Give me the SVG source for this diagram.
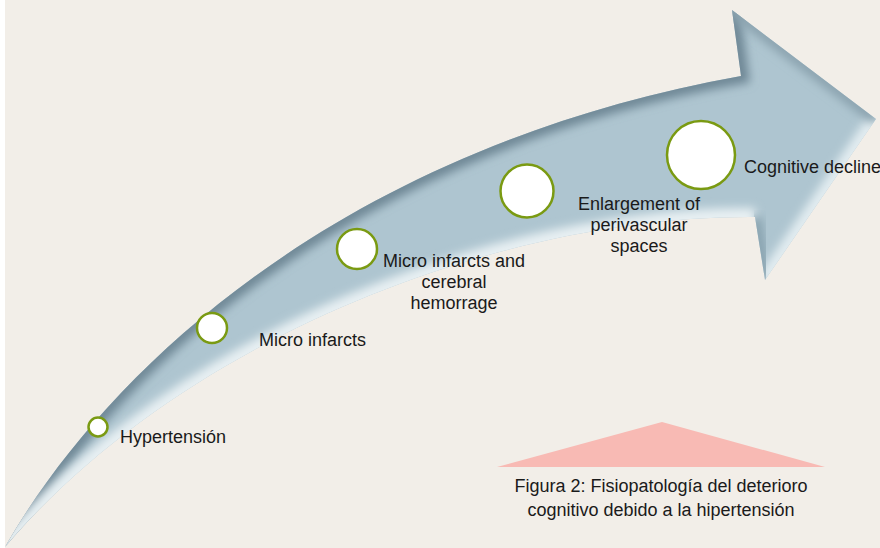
<svg xmlns="http://www.w3.org/2000/svg" width="880" height="548" viewBox="0 0 880 548">
<defs>
<style>
.node circle{fill:#ffffff;stroke:#7a9a12;stroke-width:2.5}
text{font-family:"Liberation Sans",Arial,sans-serif;font-size:18px;fill:#1a1a1a}
.c{text-anchor:middle}
</style>
<clipPath id="arrowClip"><path id="arrowPath" d="M5,547 C100,380 330,150 741,76 L732,10 L876,119 L765,280 L755,217 C500,215 180,340 5,547 Z"/></clipPath>
<filter id="blur" x="-10%" y="-10%" width="120%" height="120%"><feGaussianBlur stdDeviation="5"/></filter>
<linearGradient id="headShade" x1="0" y1="0" x2="1" y2="0">
<stop offset="0" stop-color="#8aa4b1"/><stop offset="1" stop-color="#aec6d1" stop-opacity="0"/>
</linearGradient>
</defs>
<rect x="0" y="0" width="880" height="548" fill="#ffffff"/>
<rect x="5" y="0" width="875" height="548" fill="#f2eee8"/>
<g id="arrow">
<g clip-path="url(#arrowClip)">
<rect x="0" y="0" width="880" height="548" fill="#aec5d0"/>
<path d="M5,547 C100,380 330,150 741,76 L732,10" fill="none" stroke="#6f8896" stroke-width="16" filter="url(#blur)"/>
<path d="M755,217 C500,215 180,340 5,547" fill="none" stroke="#e8f0f3" stroke-width="18" filter="url(#blur)"/>
<path d="M876,119 L765,280" fill="none" stroke="#e3edf1" stroke-width="16" filter="url(#blur)"/>
<path d="M755,217 L765,280" fill="none" stroke="#8aa4b1" stroke-width="14" filter="url(#blur)"/>
<path d="M732,10 L876,119" fill="none" stroke="#8aa2ae" stroke-width="12" filter="url(#blur)"/>
</g>
</g>
<g id="connectors"/>
<g id="n1" class="node"><circle cx="98" cy="427" r="9.5"/><text x="120" y="443">Hypertensión</text></g>
<g id="n2" class="node"><circle cx="212" cy="328" r="15"/><text x="259" y="346">Micro infarcts</text></g>
<g id="n3" class="node"><circle cx="357" cy="249" r="20"/><text class="c" x="454" y="267">Micro infarcts and</text><text class="c" x="454" y="288">cerebral</text><text class="c" x="454" y="309">hemorrage</text></g>
<g id="n4" class="node"><circle cx="527" cy="191" r="26.5"/><text class="c" x="639" y="210">Enlargement of</text><text class="c" x="639" y="231">perivascular</text><text class="c" x="639" y="252">spaces</text></g>
<g id="n5" class="node"><circle cx="701" cy="155" r="34"/><text x="744" y="173">Cognitive decline</text></g>
<g id="caption">
<polygon points="662,422 497,467 825,467" fill="#f8bab4"/>
<text class="c" x="661" y="492">Figura 2: Fisiopatología del deterioro</text>
<text class="c" x="661" y="516">cognitivo debido a la hipertensión</text>
</g>
</svg>
